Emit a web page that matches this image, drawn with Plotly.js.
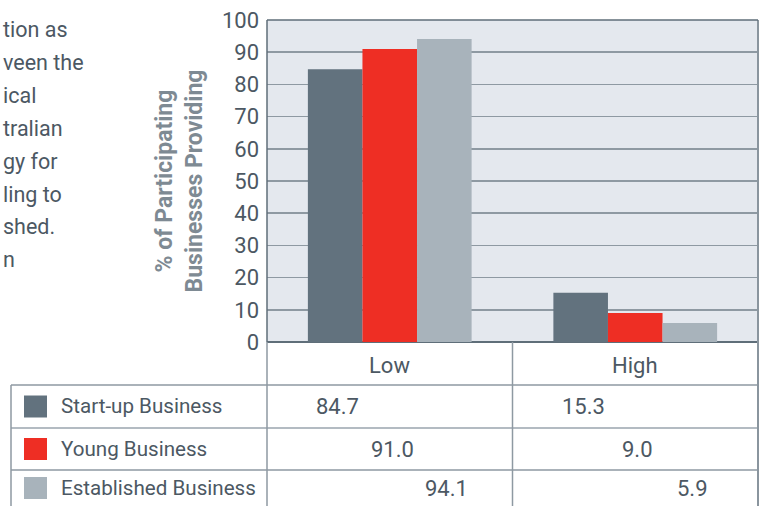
<!DOCTYPE html>
<html>
<head>
<meta charset="utf-8">
<script src="https://cdn.plot.ly/plotly-3.0.1.min.js"></script>
<style>html,body{margin:0;padding:0;background:#fff;}#chart{width:760px;height:506px;}</style>
</head>
<body>
<div id="chart"></div>
<script>
// ---- data ----
const categories = ['Low', 'High'];
const seriesNames = ['Start-up Business', 'Young Business', 'Established Business'];
const startUpValues = [84.7, 15.3];
const youngValues = [91.0, 9.0];
const establishedValues = [94.1, 5.9];
const yTickValues = [0, 10, 20, 30, 40, 50, 60, 70, 80, 90, 100];
const yAxisTitle = '% of Participating<br>Businesses Providing';
const bodyTextLines = ['tion as', 'veen the', 'ical', 'tralian', 'gy for', 'ling to', 'shed.', 'n'];

// ---- styles / geometry ----
const seriesValues = [startUpValues, youngValues, establishedValues];
const seriesColors = ['#62727e', '#ee2e24', '#a8b3bb'];
const W = 760, H = 506;
const L = 267, R = 758, T = 20, B = 342;
const FONT = 'Liberation Sans Narrow, Arial Narrow, Roboto, sans-serif';
const TXT = '#4c5863';
const LINE = '#8e99a2';
const px = x => (x - L) / (R - L);
const py = y => (B - y) / (B - T);
const BARGAP = 0.333;
const barW = (1 - BARGAP) / 3;

const traces = seriesNames.map((name, j) => ({
  type: 'bar', name: name, x: categories, y: seriesValues[j],
  marker: {color: seriesColors[j], line: {width: 0}},
  hoverinfo: 'skip'
}));

const shapes = [];
const annotations = [];

function hline(x0, x1, y, color, w) {
  shapes.push({type: 'line', xref: 'paper', yref: 'paper', x0: px(x0), x1: px(x1), y0: py(y), y1: py(y), line: {color: color, width: w}});
}
function vline(x, y0, y1, color, w) {
  shapes.push({type: 'line', xref: 'paper', yref: 'paper', x0: px(x), x1: px(x), y0: py(y0), y1: py(y1), line: {color: color, width: w}});
}

// table grid
const rowLines = [385, 428, 470];
const rowCenters = [406.5, 449, 488];
hline(11, R, rowLines[0], LINE, 1.5);
hline(11, R, rowLines[1], '#b3bbc2', 2);
hline(11, R, rowLines[2], LINE, 1.5);
vline(11, rowLines[0], H + 2, LINE, 1.5);
vline(L, B, H + 2, LINE, 1.5);
vline((L + R) / 2, B, H + 2, LINE, 1.5);
vline(R, T, H + 2, '#8a959e', 2);
// plot border top / left
hline(L, R, T, '#5f6e79', 1.5);
vline(L, T, B, '#5f6e79', 1.5);

// header category labels
categories.forEach((c, i) => {
  annotations.push({xref: 'x', yref: 'paper', x: i, y: py(365), text: c, showarrow: false,
    xanchor: 'center', yanchor: 'middle', font: {family: FONT, size: 22, color: TXT}});
});

// legend rows + values
seriesNames.forEach((name, j) => {
  const cy = rowCenters[j];
  shapes.push({type: 'rect', xref: 'paper', yref: 'paper', x0: px(24), x1: px(47), y0: py(cy - 11), y1: py(cy + 11),
    fillcolor: seriesColors[j], line: {width: 0}});
  annotations.push({xref: 'paper', yref: 'paper', x: px(59), y: py(cy), text: name, showarrow: false,
    xanchor: 'left', yanchor: 'middle', font: {family: FONT, size: 20.6, color: TXT}});
  categories.forEach((c, i) => {
    annotations.push({xref: 'x', yref: 'paper', x: i + (j - 1) * barW + 0.01, y: py(cy), text: seriesValues[j][i].toFixed(1),
      showarrow: false, xanchor: 'center', yanchor: 'middle', font: {family: FONT, size: 22, color: TXT}});
  });
});

// clipped body text on the left
bodyTextLines.forEach((t, k) => {
  annotations.push({xref: 'paper', yref: 'paper', x: px(1), y: py(30 + 32.8 * k), text: t, showarrow: false,
    xanchor: 'left', yanchor: 'middle', font: {family: FONT, size: 21.5, color: TXT}});
});

const layout = {
  width: W, height: H,
  margin: {l: L, r: W - R, t: T, b: H - B, pad: 0},
  paper_bgcolor: '#ffffff', plot_bgcolor: '#e4e8ee',
  showlegend: false,
  barmode: 'group', bargap: BARGAP, bargroupgap: 0,
  xaxis: {type: 'category', showticklabels: false, ticks: '', showgrid: false, showline: false, zeroline: false, fixedrange: true},
  yaxis: {
    range: [0, 100], tickvals: yTickValues, ticktext: yTickValues.map(String),
    tickfont: {family: FONT, size: 22, color: TXT},
    ticks: '', ticklabelstandoff: 7,
    showgrid: true, gridcolor: LINE, gridwidth: 1.5,
    zeroline: true, zerolinecolor: '#5f6e79', zerolinewidth: 2,
    showline: false, fixedrange: true,
    title: {text: yAxisTitle, standoff: 12, font: {family: FONT, size: 23, color: '#7e8a93', weight: 'bold'}}
  },
  shapes: shapes,
  annotations: annotations
};

Plotly.newPlot('chart', traces, layout, {displayModeBar: false, staticPlot: true});
</script>
</body>
</html>
